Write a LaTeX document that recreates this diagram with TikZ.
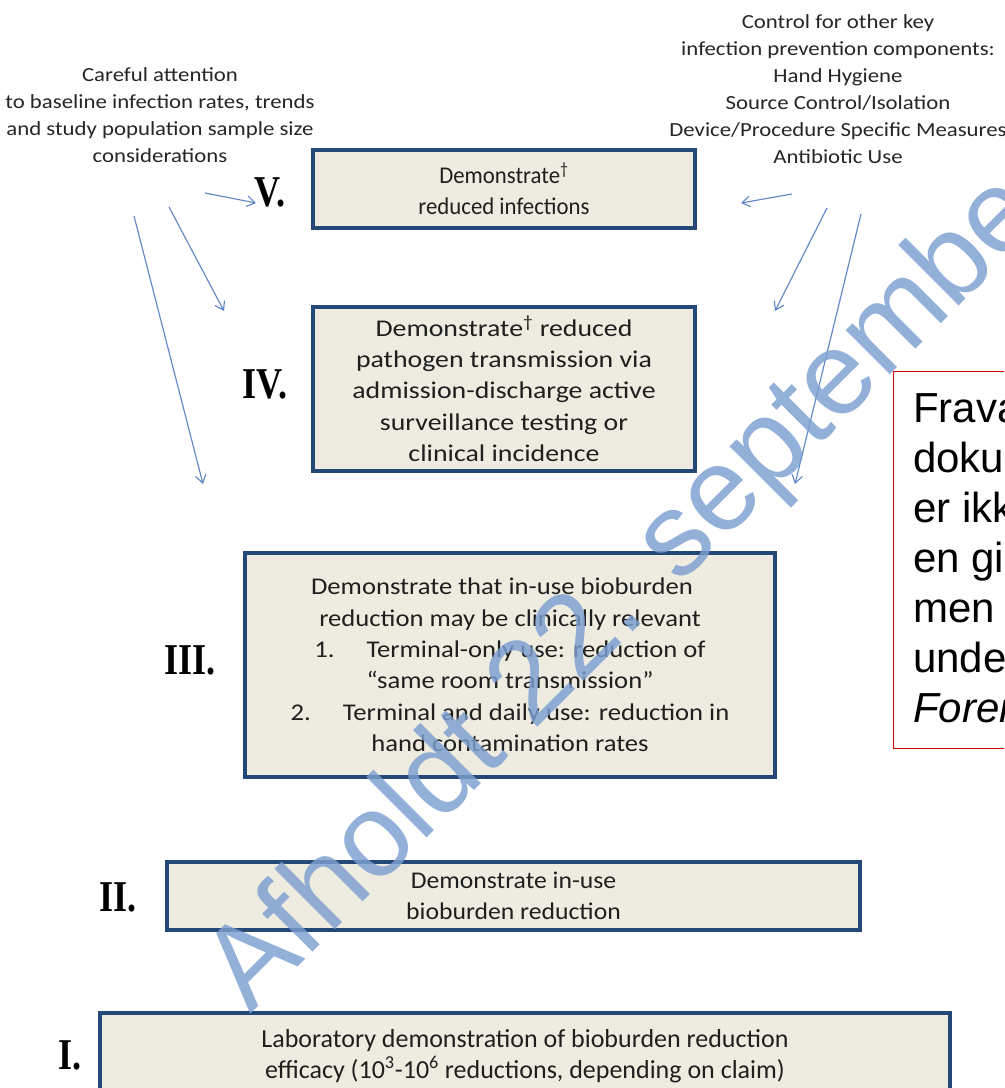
\documentclass[tikz,border=0pt]{standalone}
\usepackage{fontspec}
\setmainfont{Carlito}
\newfontfamily\fTop[FakeStretch=1.14]{Carlito}
\newfontfamily\fV[FakeStretch=0.95]{Carlito}
\newfontfamily\fIV[FakeStretch=1.16]{Carlito}
\newfontfamily\fIII[FakeStretch=1.11]{Carlito}
\newfontfamily\fII[FakeStretch=1.07]{Carlito}
\newfontfamily\fI{Carlito}
\newfontfamily\fRom[FakeStretch=0.82]{Liberation Serif}
\newfontfamily\fArial{Liberation Sans}
\usetikzlibrary{arrows.meta}
\definecolor{boxfill}{RGB}{238,236,225}
\definecolor{boxline}{RGB}{36,72,120}
\definecolor{arrowcol}{RGB}{95,135,198}
\definecolor{wmcol}{RGB}{124,159,209}
\definecolor{notered}{RGB}{204,0,0}
\tikzset{
  stage/.style={draw=boxline, fill=boxfill, line width=2.3pt, inner sep=0pt, align=center, text=black!88},
  lvl/.style={font=\fRom\bfseries\fontsize{33}{36}\selectfont, inner sep=0pt},
  remark/.style={font=\fTop\fontsize{15}{20.25}\selectfont, align=center, text=black!85, inner sep=0pt},
  flow/.style={draw=arrowcol, line width=0.85pt, -{Straight Barb[length=6pt,width=8pt]}},
  wm/.style={font=\fArial\fontsize{88.5}{90}\selectfont, text=wmcol, opacity=0.82, rotate=45, anchor=base west, inner sep=0pt},
  redframe/.style={draw=notered, line width=1.1pt, fill=white, anchor=north west, minimum width=155pt, minimum height=282.75pt, inner sep=0pt},
  notetxt/.style={font=\fArial\fontsize{31.5}{37.5}\selectfont, align=left, anchor=north west, inner sep=0pt}
}
\begin{document}
\begin{tikzpicture}[x=0.75pt,y=-0.75pt]
\useasboundingbox (0,0) rectangle (1004,1088);
\clip (0,0) rectangle (1004,1088);
\fill[white] (0,0) rectangle (1004,1088);

% side remarks
\node[remark] (left) at (160,115.5) {Careful attention\\to baseline infection rates, trends\\and study population sample size\\considerations};
\node[remark] (right) at (838,89.5) {Control for other key\\infection prevention components:\\Hand Hygiene\\Source Control/Isolation\\Device/Procedure Specific Measures\\Antibiotic Use};

% stages
\node[stage, minimum width=286.5pt, minimum height=58.5pt, font=\fV\fontsize{18}{23.6}\selectfont] (s5) at (504,189) {Demonstrate\textsuperscript{†}\\reduced infections};
\node[stage, minimum width=286.5pt, minimum height=123pt, font=\fIV\fontsize{18}{23.6}\selectfont] (s4) at (504,389) {Demonstrate\textsuperscript{†} reduced\\pathogen transmission via\\admission-discharge active\\surveillance testing or\\clinical incidence};
\node[stage, minimum width=397.5pt, minimum height=168pt, font=\fIII\fontsize{18}{23.6}\selectfont] (s3) at (510,665) {Demonstrate that in-use bioburden\hspace*{12pt}\\reduction may be clinically relevant\hspace*{12pt}\\1.\hspace{24pt}Terminal-only use: reduction of\hspace*{40pt}\\“same room transmission”\hspace*{10pt}\\2.\hspace{24pt}Terminal and daily use: reduction in\\hand contamination rates};
\node[stage, minimum width=519.75pt, minimum height=51pt, font=\fII\fontsize{18}{23.6}\selectfont] (s2) at (513.5,896) {Demonstrate in-use\\bioburden reduction};
\node[stage, minimum width=637.5pt, minimum height=65.25pt, font=\fI\fontsize{19.5}{23.25}\selectfont] (s1) at (525,1056.5) {Laboratory demonstration of bioburden reduction\\efficacy (10\textsuperscript{3}-10\textsuperscript{6} reductions, depending on claim)};

% level labels
\node[lvl] (l5) at (270,192) {V.};
\node[lvl] (l4) at (265,384) {IV.};
\node[lvl] (l3) at (190,660) {III.};
\node[lvl] (l2) at (118,897) {II.};
\node[lvl] (l1) at (70,1055) {I.};

% arrows
\coordinate (lv0) at (205,193); \coordinate (lv1) at (256,203);
\coordinate (la0) at (169,207); \coordinate (la1) at (224,311);
\coordinate (lb0) at (134,216); \coordinate (lb1) at (203,484);
\coordinate (rv0) at (792,194); \coordinate (rv1) at (741,203);
\coordinate (rc0) at (827,208); \coordinate (rc1) at (775,311);
\coordinate (rd0) at (861,214); \coordinate (rd1) at (795,484);
\draw[flow] (lv0) -- (lv1);
\draw[flow] (la0) -- (la1);
\draw[flow] (lb0) -- (lb1);
\draw[flow] (rv0) -- (rv1);
\draw[flow] (rc0) -- (rc1);
\draw[flow] (rd0) -- (rd1);

% watermark
\node[wm] (wmark) at (250,1015) {Afholdt 22. september};

% red note
\node[redframe] (note) at (893,371) {};
\node[notetxt] (notetext) at (913,393) {Frava\\doku\\er ikk\\en gi\\men\\unde\\{\itshape Foren}};
\end{tikzpicture}
\end{document}
